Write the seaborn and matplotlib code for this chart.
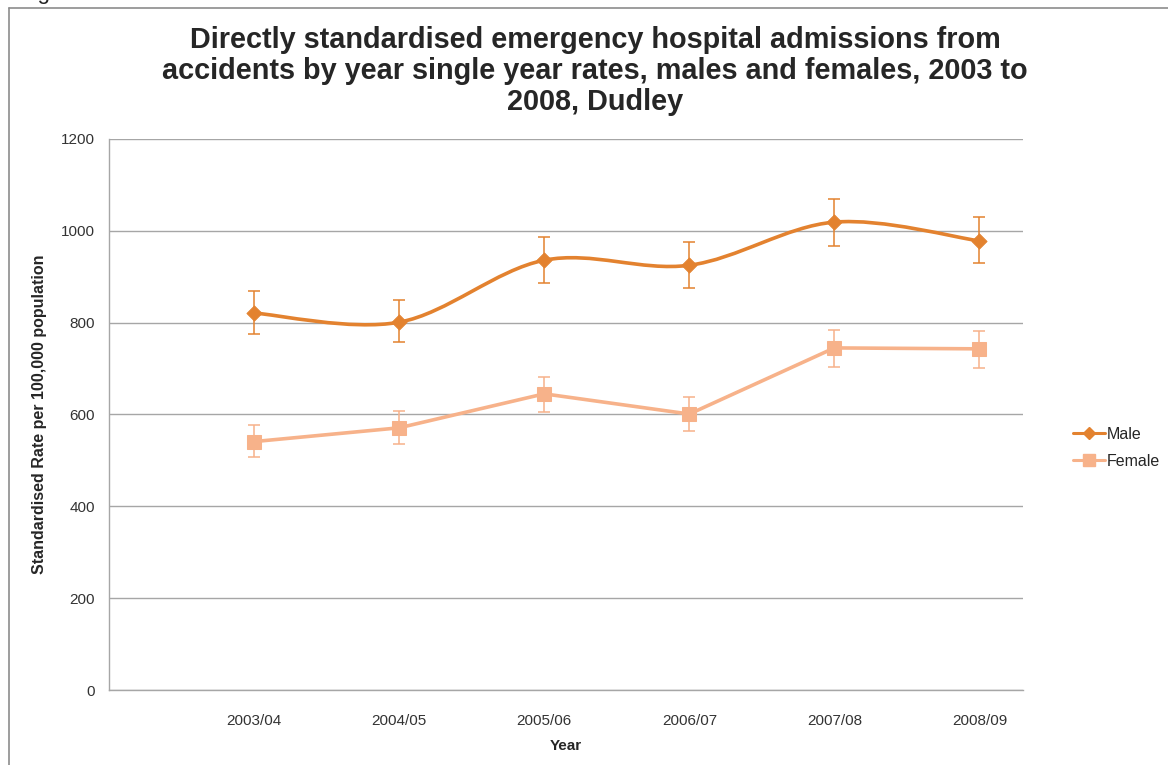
import numpy as np
import pandas as pd
import seaborn as sns
import matplotlib.pyplot as plt
from matplotlib.path import Path
from matplotlib.patches import PathPatch
from matplotlib.lines import Line2D

sns.set_style("white")
plt.rcParams["font.family"] = ["Liberation Sans", "DejaVu Sans"]

# date
years = ["2003/04", "2004/05", "2005/06", "2006/07", "2007/08", "2008/09"]
male = [821, 801, 936, 925, 1019, 978]
male_low = [775, 758, 886, 875, 967, 930]
male_high = [869, 849, 986, 976, 1069, 1030]
female = [541, 571, 645, 601, 745, 743]
female_low = [507, 536, 605, 564, 703, 701]
female_high = [577, 607, 682, 638, 784, 782]

c_male = "#E3822F"
c_female = "#F7B28A"

df = pd.DataFrame({"pos": range(len(years)), "Male": male, "Female": female})

fig = plt.figure(figsize=(11.68, 7.65), dpi=100)
ax = fig.add_axes([109 / 1168, 75 / 765, 914 / 1168, 551 / 765])

# erori
x = df["pos"].to_numpy()
ax.errorbar(x, male, yerr=[np.subtract(male, male_low), np.subtract(male_high, male)],
            fmt="none", ecolor=c_male, elinewidth=1.1, capsize=4, capthick=1.1, zorder=3)
ax.errorbar(x, female, yerr=[np.subtract(female, female_low), np.subtract(female_high, female)],
            fmt="none", ecolor=c_female, elinewidth=1.1, capsize=4, capthick=1.1, zorder=3)

# linie netezita pentru barbati (spline Bezier ca in Excel)
pts = np.column_stack([x, male]).astype(float)
ext = np.vstack([pts[0], pts, pts[-1]])
verts = [tuple(pts[0])]
codes = [Path.MOVETO]
for i in range(len(pts) - 1):
    p_prev, p0, p1, p_next = ext[i], ext[i + 1], ext[i + 2], ext[i + 3]
    c1 = p0 + (p1 - p_prev) / 6
    c2 = p1 - (p_next - p0) / 6
    verts += [tuple(c1), tuple(c2), tuple(p1)]
    codes += [Path.CURVE4] * 3
ax.add_patch(PathPatch(Path(verts, codes), facecolor="none", edgecolor=c_male, lw=2.6, zorder=4))
sns.scatterplot(data=df, x="pos", y="Male", marker="D", s=60, color=c_male,
                edgecolor=c_male, ax=ax, zorder=5)

# femei, linie dreapta
sns.lineplot(data=df, x="pos", y="Female", marker="s", markersize=10, color=c_female,
             markeredgecolor=c_female, lw=2.6, ax=ax, zorder=5)

ax.set_xlim(-1, 5.3)
ax.set_ylim(0, 1200)
ax.set_xticks(x)
ax.set_xticklabels(years)
ax.set_yticks(range(0, 1201, 200))
ax.grid(axis="y", color="#A6A6A6", lw=1)
ax.set_axisbelow(True)
for s in ["top", "right"]:
    ax.spines[s].set_visible(False)
for s in ["left", "bottom"]:
    ax.spines[s].set_color("#A6A6A6")
    ax.spines[s].set_linewidth(1)
ax.tick_params(axis="x", length=5, color="#A6A6A6", labelsize=11, pad=12, labelcolor="#333333")
ax.tick_params(axis="y", length=0, labelsize=11, pad=10, labelcolor="#333333")
ax.set_xlabel("Year", fontsize=11, fontweight="bold", labelpad=8)
ax.set_ylabel("Standardised Rate per 100,000 population", fontsize=11.5, fontweight="bold", labelpad=10)

handles = [Line2D([], [], color=c_male, lw=2.2, marker="D", markersize=6),
           Line2D([], [], color=c_female, lw=2.2, marker="s", markersize=8)]
fig.legend(handles, ["Male", "Female"], loc="center left", bbox_to_anchor=(1059 / 1168, 1 - 448 / 765),
           frameon=False, fontsize=11.5, handlelength=2.0, handletextpad=0.1, labelspacing=0.75)

fig.text(595 / 1168, 1 - 71 / 765,
         "Directly standardised emergency hospital admissions from\n"
         "accidents by year single year rates, males and females, 2003 to\n"
         "2008, Dudley",
         ha="center", va="center", fontsize=20.8, fontweight="bold", linespacing=1.12)

# rama si fragment de text din document
fig.add_artist(Line2D([9 / 1168, 9 / 1168], [0, 1 - 8 / 765], color="#8C8C8C", lw=1.2))
fig.add_artist(Line2D([9 / 1168, 1], [1 - 8 / 765, 1 - 8 / 765], color="#8C8C8C", lw=1.2))
fig.text(19 / 1168, 1 + 0.5 / 765, "Figure", fontsize=16, va="baseline", ha="left")

plt.savefig("out.png", dpi=100)
